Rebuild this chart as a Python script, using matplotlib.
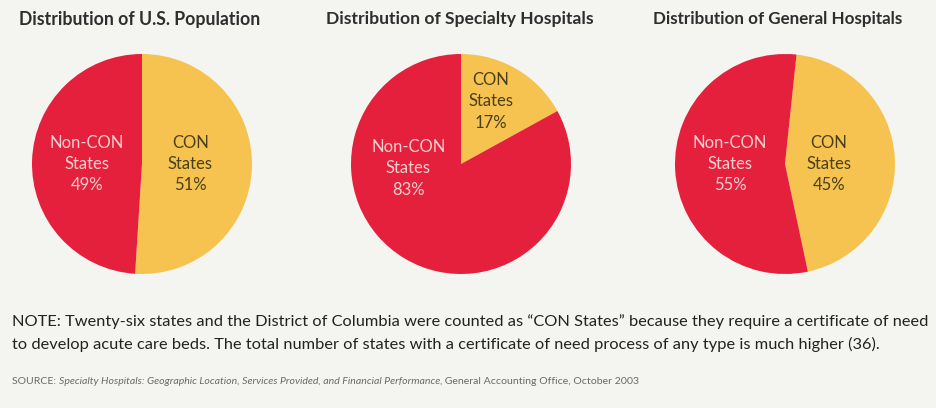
import matplotlib
matplotlib.use("Agg")
import matplotlib.pyplot as plt

# Data
titles = ["Distribution of U.S. Population",
          "Distribution of Specialty Hospitals",
          "Distribution of General Hospitals"]
con_share = [51, 17, 45]       # CON States, %
noncon_share = [49, 83, 55]    # Non-CON States, %
slice_names = ["CON\nStates", "Non-CON\nStates"]

note_lines = [
    "NOTE: Twenty-six states and the District of Columbia were counted as \u201cCON States\u201d because they require a certificate of need",
    "to develop acute care beds. The total number of states with a certificate of need process of any type is much higher (36).",
]
source_parts = ["SOURCE: ",
                "Specialty Hospitals: Geographic Location, Services Provided, and Financial Performance,",
                " General Accounting Office, October 2003"]

# Style
W, H = 936, 408
bg = "#f4f4f1"
red = "#e4203c"
yellow = "#f6c350"
red_txt = "#f6cfd0"
yel_txt = "#4a3f16"
fam = ["Lato", "DejaVu Sans"]

centers = [(142, 164), (461, 164), (785, 164)]   # pixel centres of pies
radius = 110
start_angles = [90, 90, 84]
# label offsets (fraction of radius) for CON / Non-CON
con_pos = [(0.44, 0.0), (0.27, 0.57), (0.40, 0.0)]
non_pos = [(-0.50, 0.0), (-0.48, -0.04), (-0.50, 0.0)]
title_x = [140, 460, 778]
title_w = [240, 266, 250]

fig = plt.figure(figsize=(W / 100, H / 100), dpi=100, facecolor=bg)
renderer = fig.canvas.get_renderer()


def fit(t, target):
    # scale font so the text spans target pixels
    w = t.get_window_extent(renderer=renderer).width
    t.set_fontsize(t.get_fontsize() * target / w)


for i in range(3):
    cx, cy = centers[i]
    ax = fig.add_axes([(cx - radius) / W, (H - cy - radius) / H,
                       2 * radius / W, 2 * radius / H])
    ax.pie([con_share[i], noncon_share[i]], colors=[yellow, red],
           startangle=start_angles[i], counterclock=False, radius=1.0,
           wedgeprops=dict(linewidth=0))
    ax.set_xlim(-1, 1)
    ax.set_ylim(-1, 1)
    ax.set_aspect("equal")
    ax.axis("off")
    ax.text(con_pos[i][0], con_pos[i][1],
            slice_names[0] + "\n%d%%" % con_share[i],
            ha="center", va="center", color=yel_txt, fontsize=12,
            family=fam, linespacing=1.4)
    ax.text(non_pos[i][0], non_pos[i][1],
            slice_names[1] + "\n%d%%" % noncon_share[i],
            ha="center", va="center", color=red_txt, fontsize=12,
            family=fam, linespacing=1.4)
    t = fig.text(title_x[i] / W, 1 - 19 / H, titles[i], ha="center",
                 va="center", fontsize=11, fontweight="bold",
                 color="#2e2e2e", family=fam)
    fit(t, title_w[i])

# note
t1 = fig.text(12 / W, 1 - 322 / H, note_lines[0], ha="left", va="center",
              fontsize=10, color="#222222", family=fam)
fit(t1, 916)
fig.text(12 / W, 1 - 344 / H, note_lines[1], ha="left", va="center",
         fontsize=t1.get_fontsize(), color="#222222", family=fam)

# source line with italic title
x = 12
styles = ["normal", "italic", "normal"]
parts = []
for part, st in zip(source_parts, styles):
    t = fig.text(x / W, 1 - 381 / H, part, ha="left", va="center",
                 fontsize=8.3, color="#6a6a6a", style=st, family=fam)
    parts.append(t)
    x += t.get_window_extent(renderer=renderer).width
scale = (635 - 12) / (x - 12)
x = 12
for t in parts:
    t.set_fontsize(t.get_fontsize() * scale)
    t.set_x(x / W)
    x += t.get_window_extent(renderer=renderer).width

fig.savefig("out.png", dpi=100, facecolor=bg)
